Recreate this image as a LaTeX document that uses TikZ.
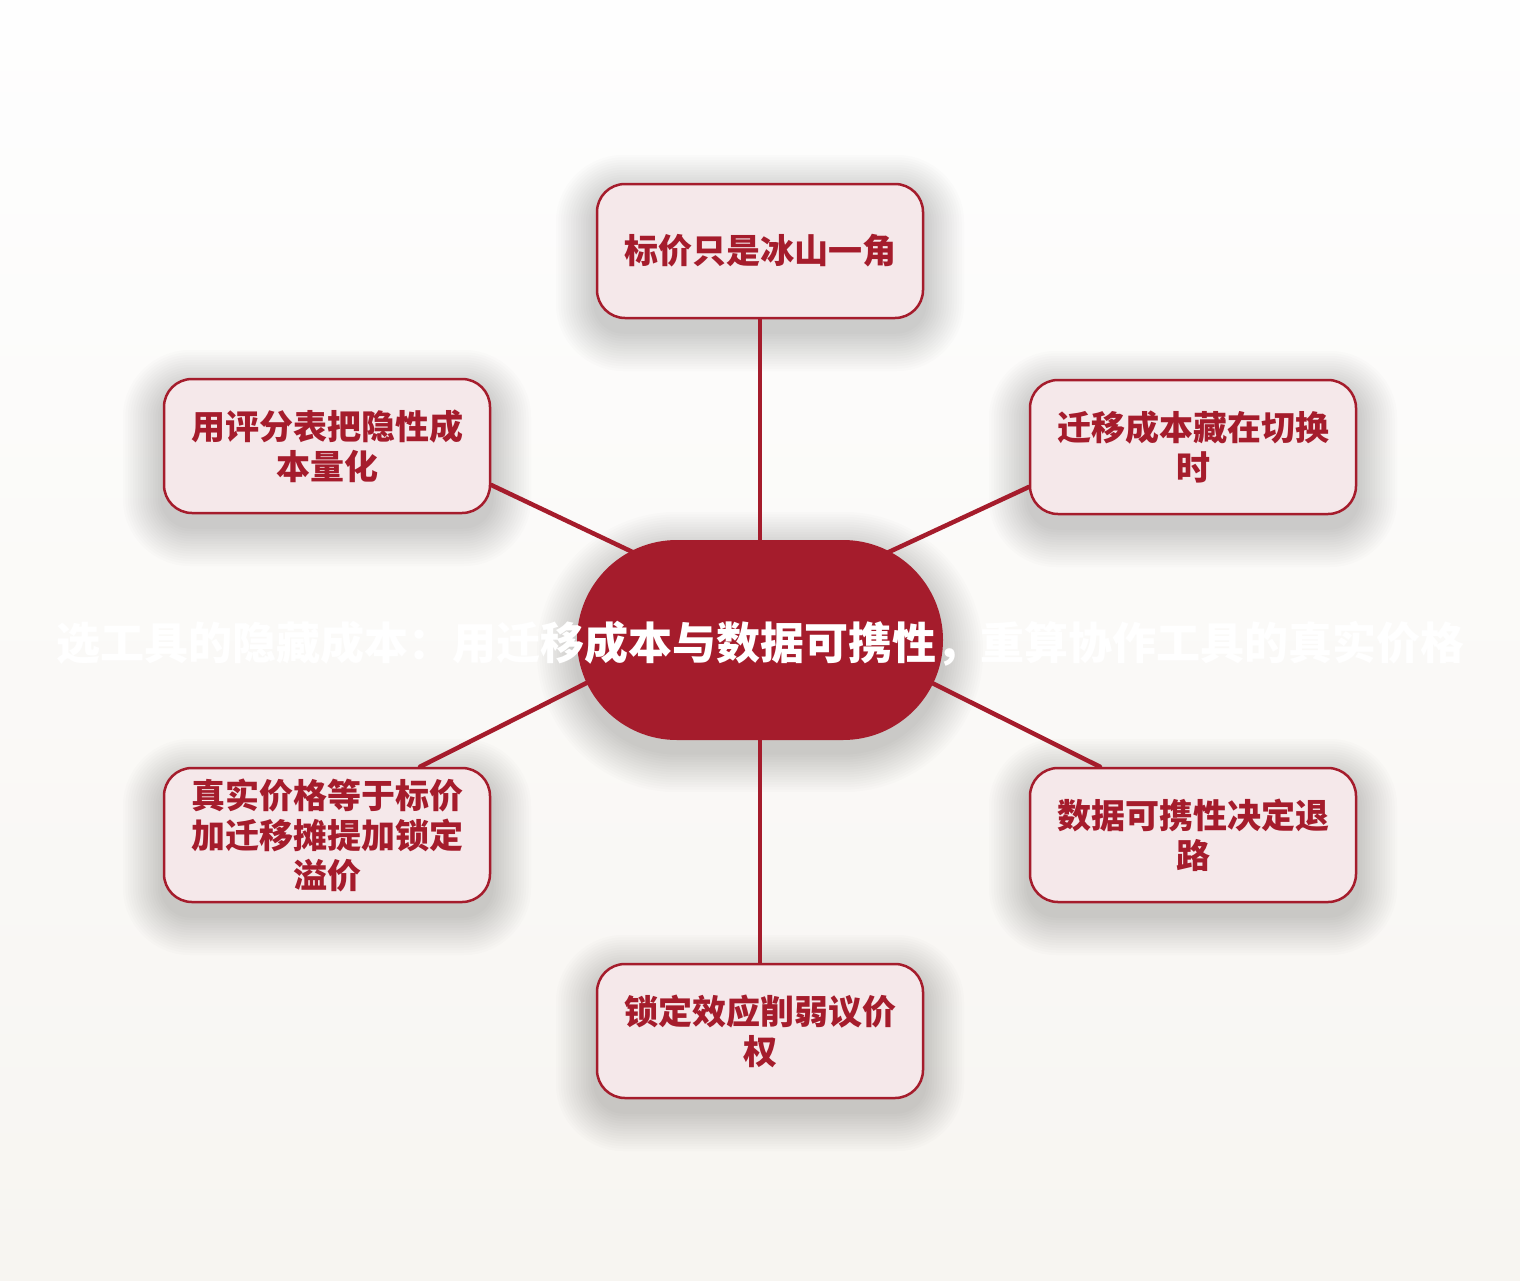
\documentclass[tikz,border=0pt]{standalone}
\usepackage{fontspec}
\setmainfont{Noto Sans CJK SC}
\usetikzlibrary{calc,backgrounds}
\definecolor{dred}{HTML}{A51C2C}
\definecolor{pinkfill}{HTML}{F5E8EA}
\definecolor{bgtop}{HTML}{FEFEFE}
\definecolor{bgbot}{HTML}{F7F5F1}
\begin{document}
\begin{tikzpicture}[x=1pt,y=-1pt,
  sat/.style={draw=dred, line width=2.5pt, fill=pinkfill, rounded corners=28pt,
    minimum width=326pt, minimum height=134pt, text width=300pt, align=center,
    inner sep=0pt, text=dred, font=\bfseries\fontsize{34}{40}\selectfont},
  hub/.style={rectangle, rounded corners=100pt, fill=dred, minimum width=366pt,
    minimum height=200pt, inner sep=0pt},
  titletext/.style={text=white, font=\bfseries\fontsize{44}{52}\selectfont, inner sep=0pt},
  link/.style={draw=dred, line width=4.5pt, line cap=round},
  softshadow/.style={fill=black, opacity=0.011}]
\useasboundingbox (0,0) rectangle (1520,1280);

\node[hub] (c) at (760,640) {};
\node[titletext] (title) at (760,644) {选工具的隐藏成本：用迁移成本与数据可携性，重算协作工具的真实价格};

\node[sat] (t)  at (760,251)  {标价只是冰山一角};
\node[sat] (ul) at (327,446)  {用评分表把隐性成\\本量化};
\node[sat] (ur) at (1193,447) {迁移成本藏在切换\\时};
\node[sat] (ll) at (327,835)  {真实价格等于标价\\加迁移摊提加锁定\\溢价};
\node[sat] (lr) at (1193,835) {数据可携性决定退\\路};
\node[sat] (b)  at (760,1031) {锁定效应削弱议价\\权};

\begin{scope}[on background layer]
  \shade[top color=bgtop, bottom color=bgbot] (0,0) rectangle (1520,1280);
  \foreach \nd/\rad in {t/28,ul/28,ur/28,ll/28,lr/28,b/28,c/100} {
    \foreach \i in {1,...,16} {
      \pgfmathsetmacro\rr{\rad+\i*2.5}
      \pgfmathsetmacro\ee{\i*2.5}
      \fill[softshadow, rounded corners=\rr pt]
        ($(\nd.north west)+(-\ee,-\ee+12)$) rectangle ($(\nd.south east)+(\ee,\ee+12)$);
    }
  }
  \draw[link] (t) -- (c);
  \draw[link] (b) -- (c);
  \draw[link] ($(ul.east)+(0,39)$) -- ($(c)+(-60,-56)$);
  \draw[link] ($(ur.west)+(0,40)$) -- ($(c)+(60,-56)$);
  \draw[link] ($(ll.north)+(93,0)$) -- ($(c)+(-100,6)$);
  \draw[link] ($(lr.north)+(-93,0)$) -- ($(c)+(100,7)$);
\end{scope}
\end{tikzpicture}
\end{document}
